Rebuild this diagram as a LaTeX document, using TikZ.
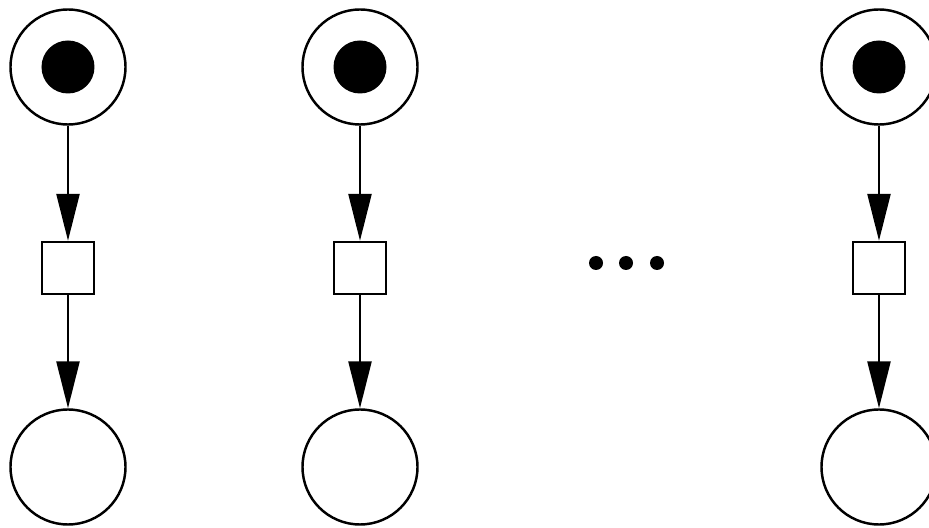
\documentclass[tikz,border=0pt]{standalone}
\usepackage{tikz}
\usetikzlibrary{arrows.meta}

\tikzset{
  place/.style={draw, circle, line width=0.7pt, minimum size=1.15cm, inner sep=0pt},
  token/.style={fill=black, circle, minimum size=0.53cm, inner sep=0pt},
  transition/.style={draw, rectangle, line width=0.7pt, minimum size=0.52cm, inner sep=0pt},
  arc/.style={line width=0.7pt, -{Triangle[length=4.7mm, width=2.3mm]}}
}

\begin{document}
\begin{tikzpicture}
    \useasboundingbox (0, 0) rectangle (9.29, 5.28);

    \node [place] (p1) at (0.68, 4.61) {};
    \node [place] (p2) at (3.60, 4.61) {};
    \node [place] (p3) at (8.79, 4.61) {};
    \node [token] at (p1) {};
    \node [token] at (p2) {};
    \node [token] at (p3) {};

    \node [transition] (t1) at (0.68, 2.60) {};
    \node [transition] (t2) at (3.60, 2.60) {};
    \node [transition] (t3) at (8.79, 2.60) {};

    \node [place] (q1) at (0.68, 0.61) {};
    \node [place] (q2) at (3.60, 0.61) {};
    \node [place] (q3) at (8.79, 0.61) {};

    \draw [arc] (p1) -- (t1);
    \draw [arc] (t1) -- (q1);
    \draw [arc] (p2) -- (t2);
    \draw [arc] (t2) -- (q2);
    \draw [arc] (p3) -- (t3);
    \draw [arc] (t3) -- (q3);

    \fill (5.96, 2.65) circle (0.07);
    \fill (6.26, 2.65) circle (0.07);
    \fill (6.57, 2.65) circle (0.07);
\end{tikzpicture}
\end{document}
